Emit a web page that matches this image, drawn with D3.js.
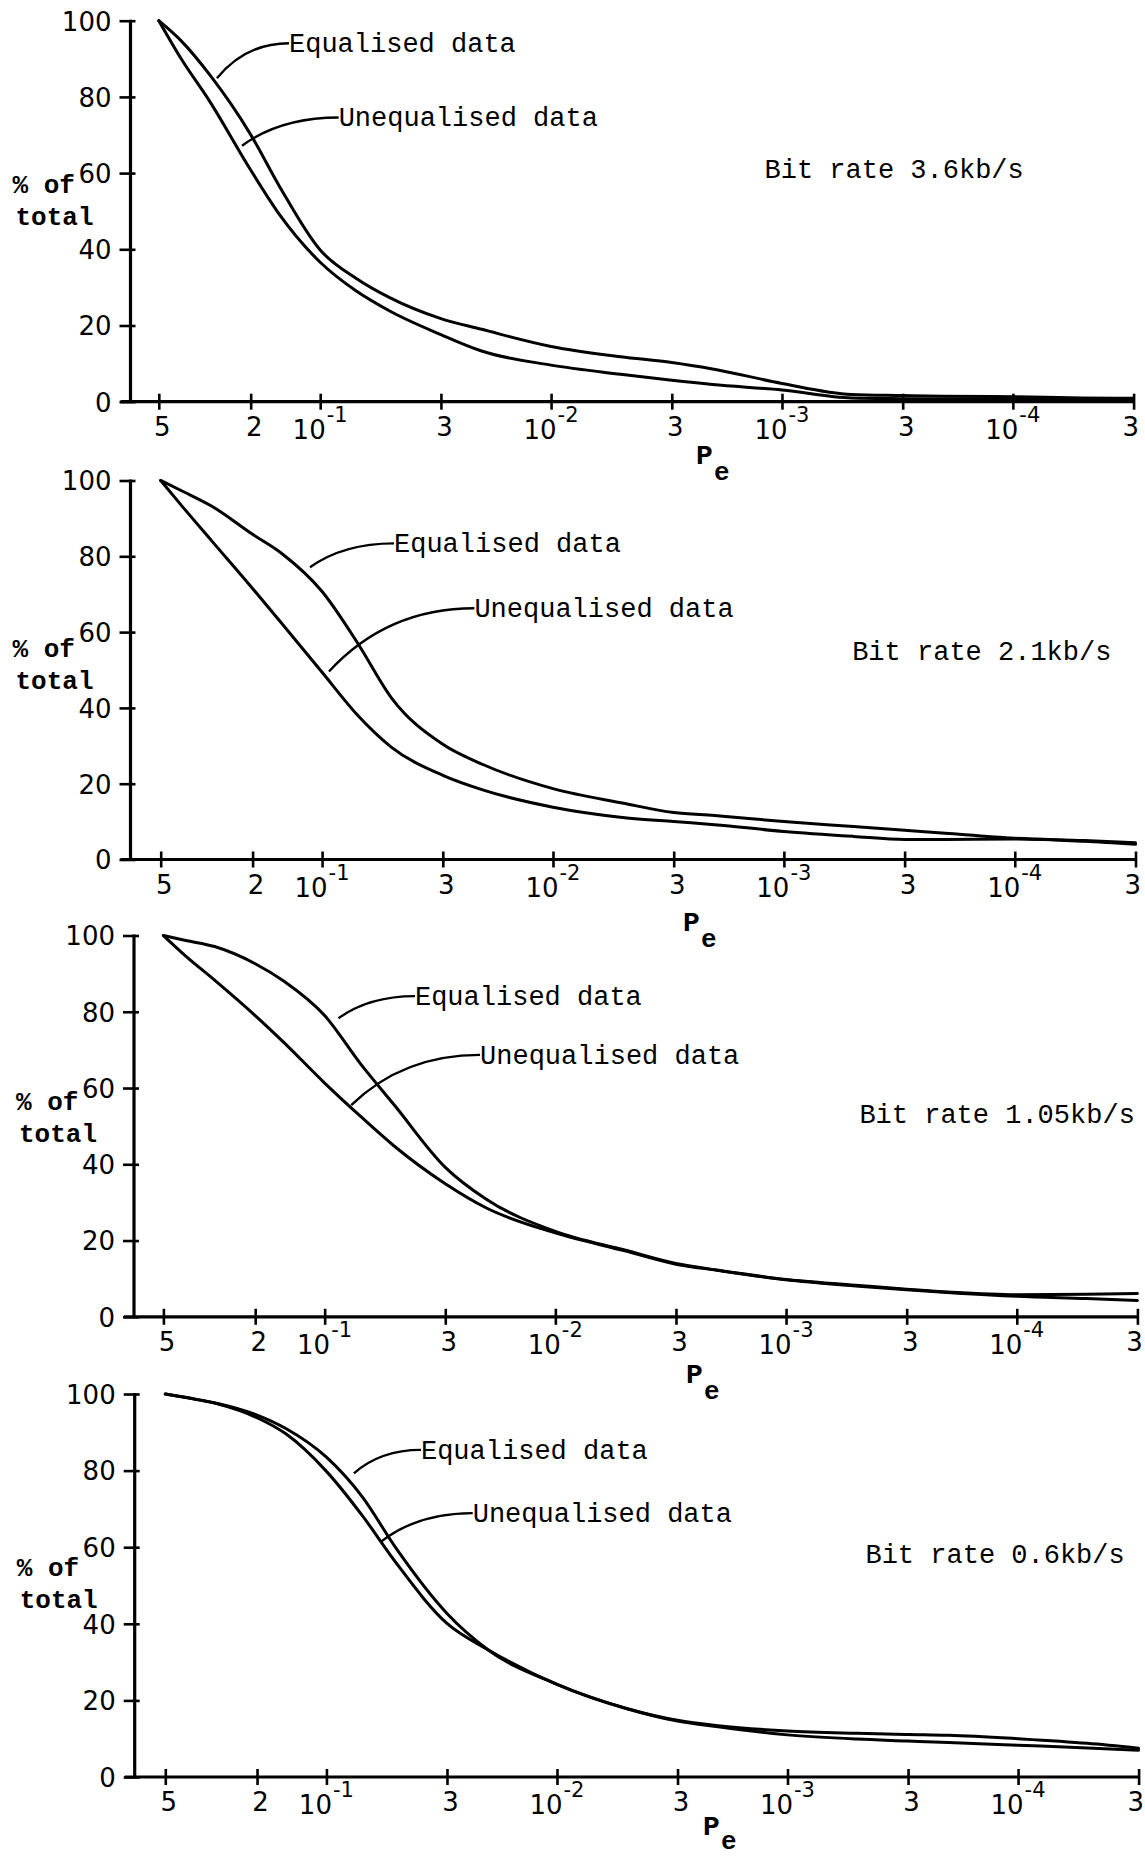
<!DOCTYPE html>
<html>
<head>
<meta charset="utf-8">
<script src="https://cdn.jsdelivr.net/npm/d3@7/dist/d3.min.js"></script>
<style>
  html, body { margin: 0; padding: 0; background: #fff; }
  svg { display: block; }
</style>
</head>
<body>
<script>
// Error probability grid (P_e), shared by all four bit-rate panels
const PE = [0.5, 0.4, 0.3, 0.2, 0.15, 0.1, 0.07, 0.05, 0.03, 0.02, 0.01,
            5e-3, 3e-3, 2e-3, 1e-3, 5e-4, 3e-4, 2e-4, 1e-4, 5e-5, 3e-5];

// % of total, bit rate 3.6 kb/s
const eq36   = [100, 94.7, 85.7, 70.1, 56.5, 39.8, 32.4, 27.3, 21.8, 19.0, 14.5,
                11.8, 10.3, 8.6, 4.8, 1.9, 1.6, 1.4, 1.3, 1.0, 0.9];
const uneq36 = [100, 90.0, 78.7, 60.8, 49.1, 36.6, 29.1, 23.8, 17.6, 13.3, 9.6,
                7.2, 5.6, 4.5, 3.1, 1.0, 0.8, 0.7, 0.7, 0.7, 0.8];

// % of total, bit rate 2.1 kb/s
const eq21   = [100, 97.1, 93.2, 85.8, 80.8, 70.7, 57.0, 42.6, 30.4, 25.0, 18.7,
                14.9, 12.4, 11.6, 10.0, 8.7, 7.7, 6.9, 5.6, 5.0, 4.4];
const uneq21 = [100, 92.9, 84.0, 71.5, 62.4, 49.4, 38.0, 29.6, 22.2, 18.3, 13.8,
                11.1, 10.0, 9.2, 7.4, 6.1, 5.3, 5.3, 5.4, 4.8, 4.0];

// % of total, bit rate 1.05 kb/s
const eq105   = [100, 98.7, 97.1, 92.6, 88.0, 79.0, 66.4, 55.6, 39.2, 30.9, 22.4,
                 17.5, 14.0, 12.3, 9.8, 8.3, 7.2, 6.5, 5.8, 5.9, 6.1];
const uneq105 = [100, 94.6, 88.3, 79.0, 71.9, 61.3, 52.6, 44.8, 34.9, 28.6, 22.0,
                 17.3, 13.8, 12.2, 9.7, 8.1, 7.1, 6.4, 5.4, 4.8, 4.3];

// % of total, bit rate 0.6 kb/s
const eq06   = [100, 99.0, 97.6, 94.5, 91.0, 83.5, 73.2, 59.8, 42.7, 33.3, 24.2,
                17.9, 14.8, 13.4, 12.0, 11.4, 11.1, 10.9, 10.0, 8.8, 7.5];
const uneq06 = [100, 99.0, 97.5, 93.8, 89.6, 79.8, 68.3, 56.0, 40.1, 33.3, 24.2,
                17.9, 14.6, 13.1, 11.0, 9.9, 9.4, 9.0, 8.3, 7.6, 7.0];

const bitRates = ["3.6", "2.1", "1.05", "0.6"];
const seriesNames = ["Equalised data", "Unequalised data"];

// Axis ticks
const yTickValues = [0, 20, 40, 60, 80, 100];
const xTickValues = [0.5, 0.2, 0.1, 0.03, 0.01, 3e-3, 1e-3, 3e-4, 1e-4, 3e-5];
const xTickBase   = ["5", "2", "10", "3", "10", "3", "10", "3", "10", "3"];
const xTickExp    = ["", "", "-1", "", "-2", "", "-3", "", "-4", ""];

const series = [[eq36, uneq36], [eq21, uneq21], [eq105, uneq105], [eq06, uneq06]];

// Panel geometry (pixels) and annotation anchors (in data units: [P_e, %])
const layout = [
  { axisX: 130.5, x0: 158.8, x1: 1133.6, yTop: 20.7,  y0: 401.7,
    eqFrom: [0.280, 84.9], eqTo: [0.1365, 94.1], unFrom: [0.218, 67.2], unTo: [0.0832, 74.6],
    rate: [1.19e-3, 58.6], peX: 696, peDy: 62, eDy: 16, ofDy: -209 },
  { axisX: 130.5, x0: 160.7, x1: 1135.5, yTop: 480.5, y0: 859.5,
    eqFrom: [0.1128, 77.1], eqTo: [0.0488, 83.4], unFrom: [0.0934, 49.6], unTo: [0.0219, 66.3],
    rate: [5.06e-4, 52.6], peX: 683, peDy: 71, eDy: 16, ofDy: -203 },
  { axisX: 134, x0: 163.4, x1: 1137.4, yTop: 935.5, y0: 1316.8,
    eqFrom: [0.0871, 78.3], eqTo: [0.0406, 84.1], unFrom: [0.0767, 55.5], unTo: [0.0212, 68.7],
    rate: [4.81e-4, 50.8], peX: 686, peDy: 66, eDy: 16, ofDy: -207 },
  { axisX: 134.7, x0: 165.3, x1: 1138.6, yTop: 1394, y0: 1777,
    eqFrom: [0.0760, 79.3], eqTo: [0.0389, 85.4], unFrom: [0.0581, 61.4], unTo: [0.0232, 68.9],
    rate: [4.59e-4, 55.8], peX: 703, peDy: 58, eDy: 14, ofDy: -201 }
];

const W = 1145, H = 1857;
const MONO = "'Liberation Mono', 'DejaVu Sans Mono', monospace";
const SANS = "'DejaVu Sans', 'Liberation Sans', sans-serif";

const svg = d3.select("body").append("svg")
  .attr("width", W).attr("height", H)
  .attr("viewBox", `0 0 ${W} ${H}`);
svg.append("rect").attr("width", W).attr("height", H).attr("fill", "#fff");

layout.forEach((L, p) => {
  const g = svg.append("g").attr("class", "panel");
  const x = d3.scaleLog().domain([0.5, 3e-5]).range([L.x0, L.x1]);
  const y = d3.scaleLinear().domain([0, 100]).range([L.y0, L.yTop]);

  // y axis
  const gy = g.append("g").attr("transform", `translate(${L.axisX},0)`)
    .call(d3.axisLeft(y).tickValues(yTickValues).tickSizeInner(11).tickSizeOuter(0).tickPadding(8));
  gy.select(".domain").remove();
  gy.selectAll(".tick line").attr("x1", 5).attr("x2", -11)
    .attr("stroke", "#000").attr("stroke-width", 2.6);
  gy.selectAll(".tick text")
    .attr("x", -19).attr("dy", "0.36em")
    .attr("font-family", SANS).attr("font-size", 26).attr("fill", "#000");
  g.append("line")
    .attr("x1", L.axisX).attr("x2", L.axisX)
    .attr("y1", y(100) - 1).attr("y2", L.y0 + 1)
    .attr("stroke", "#000").attr("stroke-width", 3.2);

  // x axis
  const gx = g.append("g").attr("transform", `translate(0,${L.y0})`)
    .call(d3.axisBottom(x).tickValues(xTickValues).tickSizeInner(8).tickSizeOuter(0).tickFormat(""));
  gx.select(".domain").remove();
  gx.selectAll(".tick line").attr("y1", -8).attr("y2", 8)
    .attr("stroke", "#000").attr("stroke-width", 2.6);
  gx.selectAll(".tick text").remove();
  const lastTick = xTickValues.length - 1;
  gx.selectAll(".tick").each(function (d, i) {
    const t = d3.select(this);
    if (xTickExp[i]) {
      t.append("text").text(xTickBase[i])
        .attr("x", 5).attr("y", 37).attr("text-anchor", "end")
        .attr("font-family", SANS).attr("font-size", 26).attr("fill", "#000");
      t.append("text").text(xTickExp[i])
        .attr("x", 6).attr("y", 20).attr("text-anchor", "start")
        .attr("font-family", SANS).attr("font-size", 21).attr("fill", "#000");
    } else {
      t.append("text").text(xTickBase[i])
        .attr("x", i === lastTick ? 5 : 3).attr("y", 34)
        .attr("text-anchor", i === lastTick ? "end" : "middle")
        .attr("font-family", SANS).attr("font-size", 26).attr("fill", "#000");
    }
  });
  g.append("line")
    .attr("x1", L.axisX - 10).attr("x2", L.x1)
    .attr("y1", L.y0).attr("y2", L.y0)
    .attr("stroke", "#000").attr("stroke-width", 3.2);

  // P_e axis title
  g.append("text").text("P")
    .attr("x", L.peX).attr("y", L.y0 + L.peDy)
    .attr("font-family", MONO).attr("font-weight", "bold").attr("font-size", 28);
  g.append("text").text("e")
    .attr("x", L.peX + 18).attr("y", L.y0 + L.peDy + L.eDy)
    .attr("font-family", MONO).attr("font-weight", "bold").attr("font-size", 26);

  // y axis title
  g.append("text").text("% of")
    .attr("x", L.axisX - 118).attr("y", L.y0 + L.ofDy)
    .attr("font-family", MONO).attr("font-weight", "bold").attr("font-size", 26);
  g.append("text").text("total")
    .attr("x", L.axisX - 115).attr("y", L.y0 + L.ofDy + 32)
    .attr("font-family", MONO).attr("font-weight", "bold").attr("font-size", 26);

  // curves
  const line = d3.line()
    .x((d, i) => x(PE[i]))
    .y(d => y(d))
    .curve(d3.curveMonotoneX);
  series[p].forEach(vals => {
    g.append("path").datum(vals)
      .attr("d", line)
      .attr("fill", "none")
      .attr("stroke", "#000")
      .attr("stroke-width", 3)
      .attr("stroke-linejoin", "round")
      .attr("stroke-linecap", "round");
  });

  // labels with leader lines
  [[L.eqFrom, L.eqTo], [L.unFrom, L.unTo]].forEach(([from, to], k) => {
    const sx = x(from[0]), sy = y(from[1]);
    const ex = x(to[0]), ey = y(to[1]);
    const path = d3.path();
    path.moveTo(sx, sy);
    path.quadraticCurveTo(sx + (ex - sx) * 0.4, ey, ex, ey);
    g.append("path").attr("d", path.toString())
      .attr("fill", "none").attr("stroke", "#000").attr("stroke-width", 2.4);
    g.append("text").text(seriesNames[k])
      .attr("x", ex).attr("y", ey + 9)
      .attr("font-family", MONO).attr("font-size", 27).attr("fill", "#000");
  });

  g.append("text").text(`Bit rate ${bitRates[p]}kb/s`)
    .attr("x", x(L.rate[0])).attr("y", y(L.rate[1]))
    .attr("font-family", MONO).attr("font-size", 27).attr("fill", "#000");
});
</script>
</body>
</html>
